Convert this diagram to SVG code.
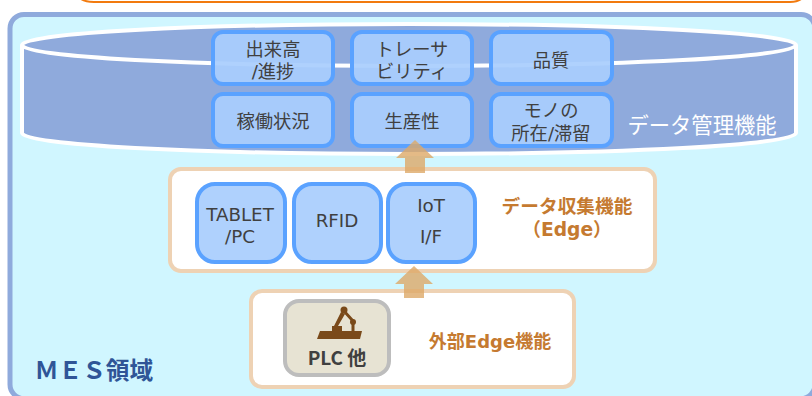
<svg xmlns="http://www.w3.org/2000/svg" width="812" height="396" viewBox="0 0 812 396">
<style>
text{font-family:"DejaVu Sans","Noto Sans CJK JP",sans-serif;text-anchor:middle}
.box{fill:#a9cefd;fill-opacity:.93;stroke:#5aa2ff;stroke-width:4}
.t{font-size:18.300px;fill:#404040}
.o{font-weight:700;fill:#c57a30}
.p{fill:#fff;stroke:#eed2b4;stroke-width:4}
.ar{fill:#dda968;fill-opacity:.8}
</style>
<rect width="812" height="396" fill="#fff"/>
<path d="M78 -4 Q82 2 94 2 H790 Q800 2 804 -4" fill="none" stroke="#f27a0e" stroke-width="2"/>
<rect id="mes-panel" x="10" y="14.500" width="805" height="384" rx="14" fill="#d0f6ff" stroke="#8faadc" stroke-width="5"/>
<g id="cylinder">
<path d="M22 45 C22 33 195 24 409 24 C623 24 796 33 796 45 V133 C796 145 623 154 409 154 C195 154 22 145 22 133 Z" fill="#8faadc" stroke="#fff" stroke-width="4"/>
<path d="M22 45 C22 57 195 66 409 66 C623 66 796 57 796 45" fill="none" stroke="#fff" stroke-width="4"/>
<text x="702" y="133" style="font-size:21.300px;fill:#fff">データ管理機能</text>
</g>
<g id="n-dekidaka"><rect class="box" x="213" y="32" width="120" height="52" rx="10"/><text class="t" x="273" y="56">出来高</text><text class="t" x="273" y="78">/進捗</text></g>
<g id="n-trace"><rect class="box" x="352" y="32" width="120" height="52" rx="10"/><text class="t" x="412" y="56">トレーサ</text><text class="t" x="412" y="78">ビリティ</text></g>
<g id="n-quality"><rect class="box" x="491" y="32" width="121" height="52" rx="10"/><text class="t" x="551" y="67">品質</text></g>
<g id="n-kadou"><rect class="box" x="213" y="94" width="120" height="52" rx="10"/><text class="t" x="273" y="128">稼働状況</text></g>
<g id="n-seisan"><rect class="box" x="352" y="94" width="120" height="52" rx="10"/><text class="t" x="412" y="128">生産性</text></g>
<g id="n-mono"><rect class="box" x="491" y="94" width="121" height="52" rx="10"/><text class="t" x="551" y="117">モノの</text><text class="t" x="551" y="140">所在/滞留</text></g>
<g id="edge-panel"><rect class="p" x="170" y="169" width="485" height="102" rx="11"/><text class="o" style="font-size:18.700px" x="567" y="213">データ収集機能</text><text class="o" style="font-size:18.700px" x="567" y="236">（Edge）</text></g>
<g id="n-tablet"><rect class="box" x="197" y="184" width="88" height="78" rx="18"/><text class="t" x="240" y="221">TABLET</text><text class="t" x="240" y="243">/PC</text></g>
<g id="n-rfid"><rect class="box" x="294" y="184" width="87" height="78" rx="18"/><text class="t" x="337" y="227">RFID</text></g>
<g id="n-iot"><rect class="box" x="388" y="184" width="87" height="78" rx="18"/><text class="t" x="431" y="212">IoT</text><text class="t" x="431" y="243">I/F</text></g>
<g id="ext-panel"><rect class="p" x="251" y="291" width="323" height="96" rx="11"/><text class="o" style="font-size:18px" x="490" y="348">外部Edge機能</text></g>
<g id="n-plc"><rect x="285" y="301" width="104" height="74" rx="14" fill="#e7e3d3" stroke="#bdbdbd" stroke-width="4"/>
<path d="M320 331 H332 V326 H334 L341 312 L345 314 L338 326 H342 V331 H362 L360 339 H317 Z" fill="#7a4a1a"/>
<path d="M344 311 L353 321 V331" fill="none" stroke="#7a4a1a" stroke-width="3"/>
<circle cx="344" cy="310" r="3.500" fill="#7a4a1a"/><circle cx="353" cy="322" r="3" fill="#7a4a1a"/>
<text x="337" y="365" style="font-family:'Noto Sans CJK JP',sans-serif;font-size:19px;font-weight:700;fill:#404040">PLC 他</text></g>
<text id="mes-label" x="94" y="379" style="font-size:23.700px;font-weight:700;fill:#2f5597">ＭＥＳ領域</text>
<g id="connectors">
<path class="ar" d="M415 140 L434 158 H425 V173 H405 V158 H396 Z"/>
<path class="ar" d="M414 266 L433 284 H424 V298 H404 V284 H395 Z"/>
</g>
</svg>
